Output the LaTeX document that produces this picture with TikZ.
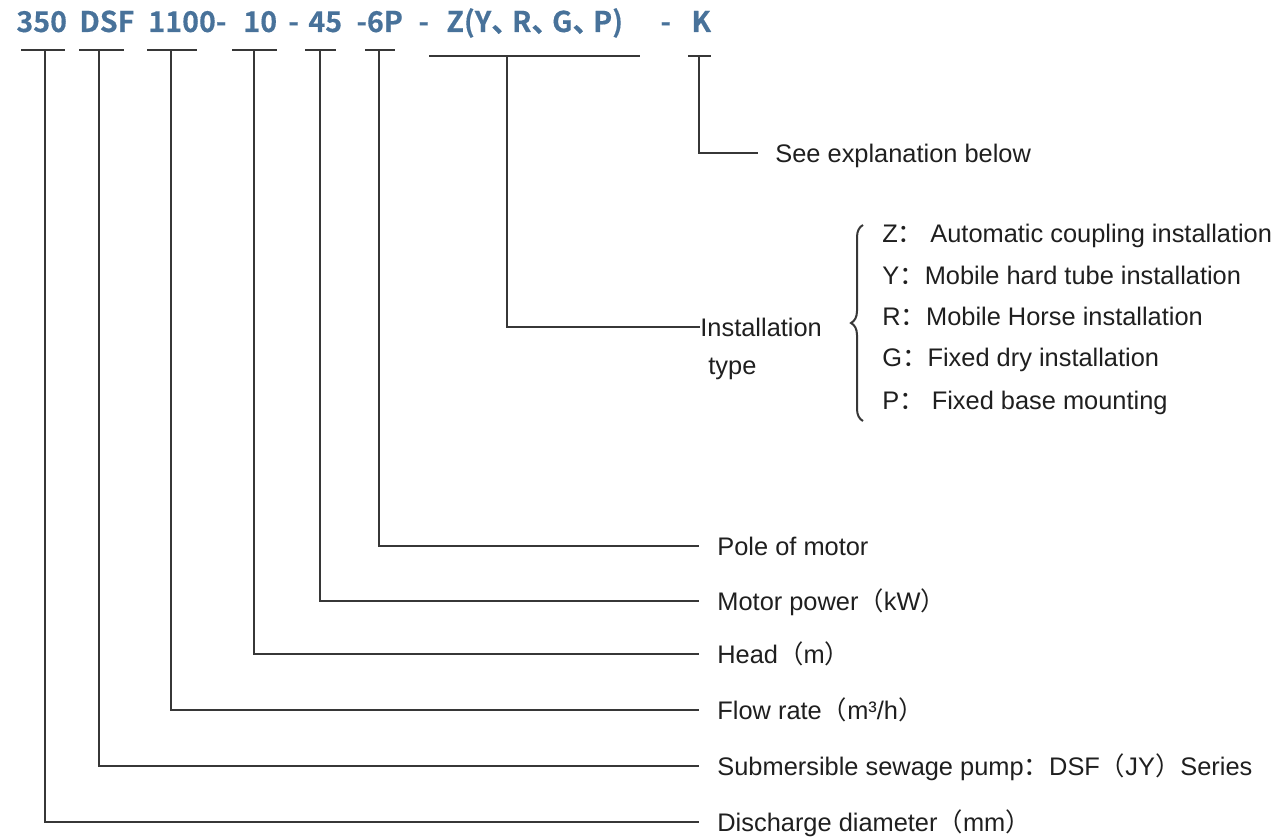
\documentclass[tikz,border=0pt]{standalone}
\usepackage{fontspec}
\setmainfont{Liberation Sans}
\newfontfamily\cjk{Noto Sans CJK SC}
\newfontfamily\codefont{Noto Sans CJK SC Bold}[FakeBold=0.4]
\usetikzlibrary{decorations.pathreplacing}
\definecolor{codeblue}{RGB}{72,114,154}
\definecolor{linegray}{RGB}{55,55,55}
\newcommand{\lpar}{{\cjk （}}
\newcommand{\rpar}{{\cjk ）}}
\newcommand{\fcolon}{{\cjk ：}}
\newcommand{\dun}{\makebox[0.72em][l]{、}}
\tikzset{
  code/.style={anchor=base west, inner sep=0pt, text=codeblue,
    font=\codefont\fontsize{14.3}{16}\selectfont},
  lbl/.style={anchor=west, inner sep=0pt, text height=9.1pt, text depth=0pt,
    text=black!88, font=\fontsize{12.7}{15}\selectfont},
  tick/.style={draw=linegray, line width=0.75pt},
  conn/.style={draw=linegray, line width=0.7pt}
}
\begin{document}
\begin{tikzpicture}[x=0.5pt, y=-0.5pt]
  \useasboundingbox (0,0) rectangle (1274,840);
  % model code
  \node[code] (c350)  at (16,32)  {350};
  \node[code] (cdsf)  at (79,32)  {DSF};
  \node[code] (c1100) at (148,32) {1100-};
  \node[code] (c10)   at (243,32) {10};
  \node[code] (d1)    at (288,32) {-};
  \node[code] (c45)   at (308,32) {45};
  \node[code] (c6p)   at (356,32) {-6P};
  \node[code] (d2)    at (418,32) {-};
  \node[code] (cz)    at (446,32) {Z(Y\dun R\dun G\dun P)};
  \node[code] (d3)    at (660,32) {-};
  \node[code] (ck)    at (691,32) {K};
  % underlines
  \draw[tick] (21,50) -- (65,50);
  \draw[tick] (79,50) -- (124,50);
  \draw[tick] (147,50) -- (197,50);
  \draw[tick] (232,50) -- (277,50);
  \draw[tick] (305,50) -- (336,50);
  \draw[tick] (365,50) -- (395,50);
  \draw[tick] (429,56) -- (640,56);
  \draw[tick] (688,56) -- (711,56);
  \coordinate (u350)  at (45,50);
  \coordinate (udsf)  at (99,50);
  \coordinate (u1100) at (171,50);
  \coordinate (u10)   at (254,50);
  \coordinate (u45)   at (320,50);
  \coordinate (u6p)   at (379,50);
  \coordinate (uz)    at (507,56);
  \coordinate (uk)    at (699,56);
  % labels
  \node[lbl] (see)   at (775,153) {See explanation below};
  \node[lbl] (inst)  at (700,327) {Installation};
  \node[lbl] (type)  at (708,365) {type};
  \node[lbl] (pole)  at (717,546) {Pole of motor};
  \node[lbl] (power) at (717,601) {Motor power\lpar kW\rpar};
  \node[lbl] (head)  at (717,654) {Head\lpar m\rpar};
  \node[lbl] (flow)  at (717,710) {Flow rate\lpar m³/h\rpar};
  \node[lbl] (pump)  at (717,766) {Submersible sewage pump\fcolon DSF\lpar JY\rpar Series};
  \node[lbl] (diam)  at (717,822) {Discharge diameter\lpar mm\rpar};
  % installation types
  \node[lbl] (tz) at (882,233) {Z\fcolon\ Automatic coupling installation};
  \node[lbl] (ty) at (882,275) {Y\fcolon Mobile hard tube installation};
  \node[lbl] (tr) at (882,316) {R\fcolon Mobile Horse installation};
  \node[lbl] (tg) at (882,357) {G\fcolon Fixed dry installation};
  \node[lbl] (tp) at (882,400) {P\fcolon\ Fixed base mounting};
  \draw[conn, line width=1pt, decorate, decoration={brace, amplitude=6pt}]
    (863,421) -- (863,225);
  % connectors
  \draw[conn] (uk) |- ([xshift=-8.5pt]see.west);
  \draw[conn] (uz) |- (inst.west);
  \draw[conn] (u6p) |- ([xshift=-9pt]pole.west);
  \draw[conn] (u45) |- ([xshift=-9pt]power.west);
  \draw[conn] (u10) |- ([xshift=-9pt]head.west);
  \draw[conn] (u1100) |- ([xshift=-9pt]flow.west);
  \draw[conn] (udsf) |- ([xshift=-9pt]pump.west);
  \draw[conn] (u350) |- ([xshift=-9pt]diam.west);
\end{tikzpicture}
\end{document}
